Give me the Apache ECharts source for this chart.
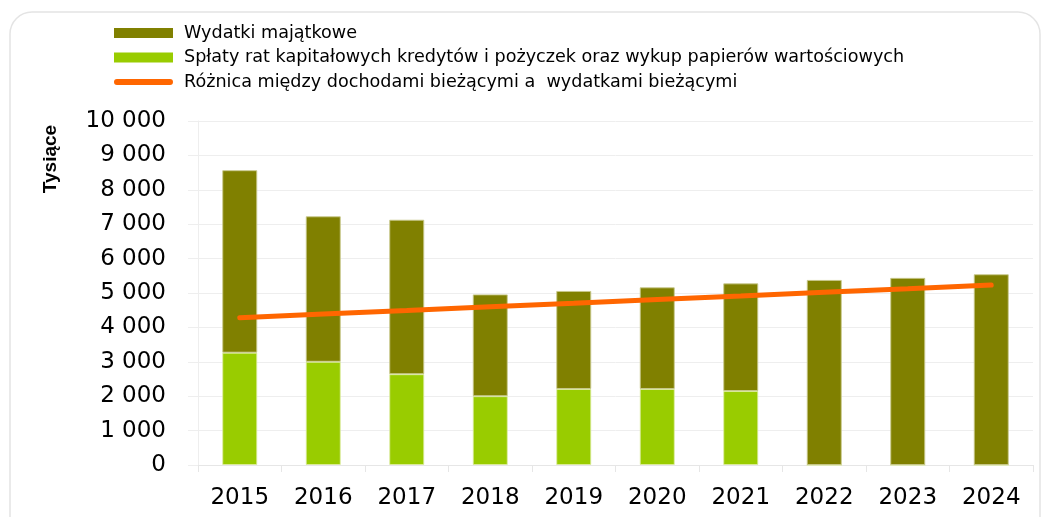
<!DOCTYPE html>
<html>
<head>
<meta charset="UTF-8">
<title></title>
<style>html,body{margin:0;padding:0;background:#fff;}#charts{width:1048px;height:517px;}</style>
</head>
<body>
<div id="charts"></div>
<script src="https://cdn.jsdelivr.net/npm/echarts@6/dist/echarts.min.js"></script>
<script>
var years = ['2015','2016','2017','2018','2019','2020','2021','2022','2023','2024'];
// Spłaty rat kapitałowych (dolna część słupka)
var splaty = [3265, 3000, 2640, 2000, 2210, 2210, 2150, 0, 0, 0];
// Wydatki majątkowe (górna część słupka)
var majatkowe = [5305, 4230, 4490, 2960, 2850, 2955, 3130, 5380, 5440, 5545];
// Różnica między dochodami bieżącymi a wydatkami bieżącymi
var roznica = [4280, 4390, 4490, 4600, 4700, 4810, 4910, 5020, 5120, 5230];

var names = ['Wydatki majątkowe',
  'Spłaty rat kapitałowych kredytów i pożyczek oraz wykup papierów wartościowych',
  'Różnica między dochodami bieżącymi a  wydatkami bieżącymi'];

var mycharts = echarts.init(document.getElementById('charts'));

var option = {
  backgroundColor: '#fff',
  animation: false,
  graphic: [{
    type: 'rect',
    shape: {x: 10, y: 12, width: 1030, height: 540, r: 22},
    style: {fill: 'none', stroke: '#e4e4e4', lineWidth: 1.5},
    z: -1
  }, {
    type: 'text',
    x: 51, y: 159,
    rotation: Math.PI / 2,
    style: {text: 'Tysiące', fontFamily: 'Liberation Sans', fontWeight: 'bold', fontSize: 19,
      fill: '#000', align: 'center', verticalAlign: 'middle'}
  }],
  legend: {
    orient: 'vertical',
    left: 114,
    top: 24,
    padding: 0,
    itemWidth: 59,
    itemHeight: 10,
    itemGap: 6.5,
    textStyle: {fontFamily: 'DejaVu Sans', fontSize: 17.6, color: '#000', padding: [0, 0, 0, 6]},
    data: [
      {name: names[0], icon: 'rect', itemStyle: {borderWidth: 0}},
      {name: names[1], icon: 'rect', itemStyle: {borderWidth: 0}},
      {name: names[2], icon: 'path://M3,0 L57,0 A3,3 0 0 1 57,6 L3,6 A3,3 0 0 1 3,0 Z'}
    ]
  },
  grid: {left: 198, right: 15, top: 121, bottom: 52},
  xAxis: {
    type: 'category',
    data: years,
    axisLine: {lineStyle: {color: '#e6e6e6'}},
    axisTick: {show: true, length: 7, lineStyle: {color: '#e6e6e6'}},
    axisLabel: {fontFamily: 'DejaVu Sans', fontSize: 23, color: '#000', margin: 22}
  },
  yAxis: {
    type: 'value',
    min: 0,
    max: 10000,
    interval: 1000,
    axisLine: {show: true, lineStyle: {color: '#eeeeee'}},
    axisTick: {show: true, inside: false, length: 10, lineStyle: {color: '#eeeeee'}},
    splitLine: {lineStyle: {color: '#eeeeee'}},
    axisLabel: {
      fontFamily: 'DejaVu Sans', fontSize: 23, color: '#000', margin: 32,
      formatter: function (v) { return v >= 1000 ? Math.floor(v / 1000) + ' ' + ('00' + (v % 1000)).slice(-3) : String(v); }
    }
  },
  series: [
    {
      name: names[1], type: 'bar', stack: 'a', data: splaty, barWidth: 35,
      itemStyle: {color: '#99cc00', borderColor: 'rgba(220,235,160,0.8)', borderWidth: 1}
    },
    {
      name: names[0], type: 'bar', stack: 'a', data: majatkowe, barWidth: 35,
      itemStyle: {color: '#808000', borderColor: 'rgba(200,200,140,0.9)', borderWidth: 1}
    },
    {
      name: names[2], type: 'line', data: roznica, symbol: 'none', z: 5,
      lineStyle: {color: '#ff6600', width: 5, cap: 'round'},
      itemStyle: {color: '#ff6600'}
    }
  ]
};
mycharts.setOption(option);
</script>
</body>
</html>
